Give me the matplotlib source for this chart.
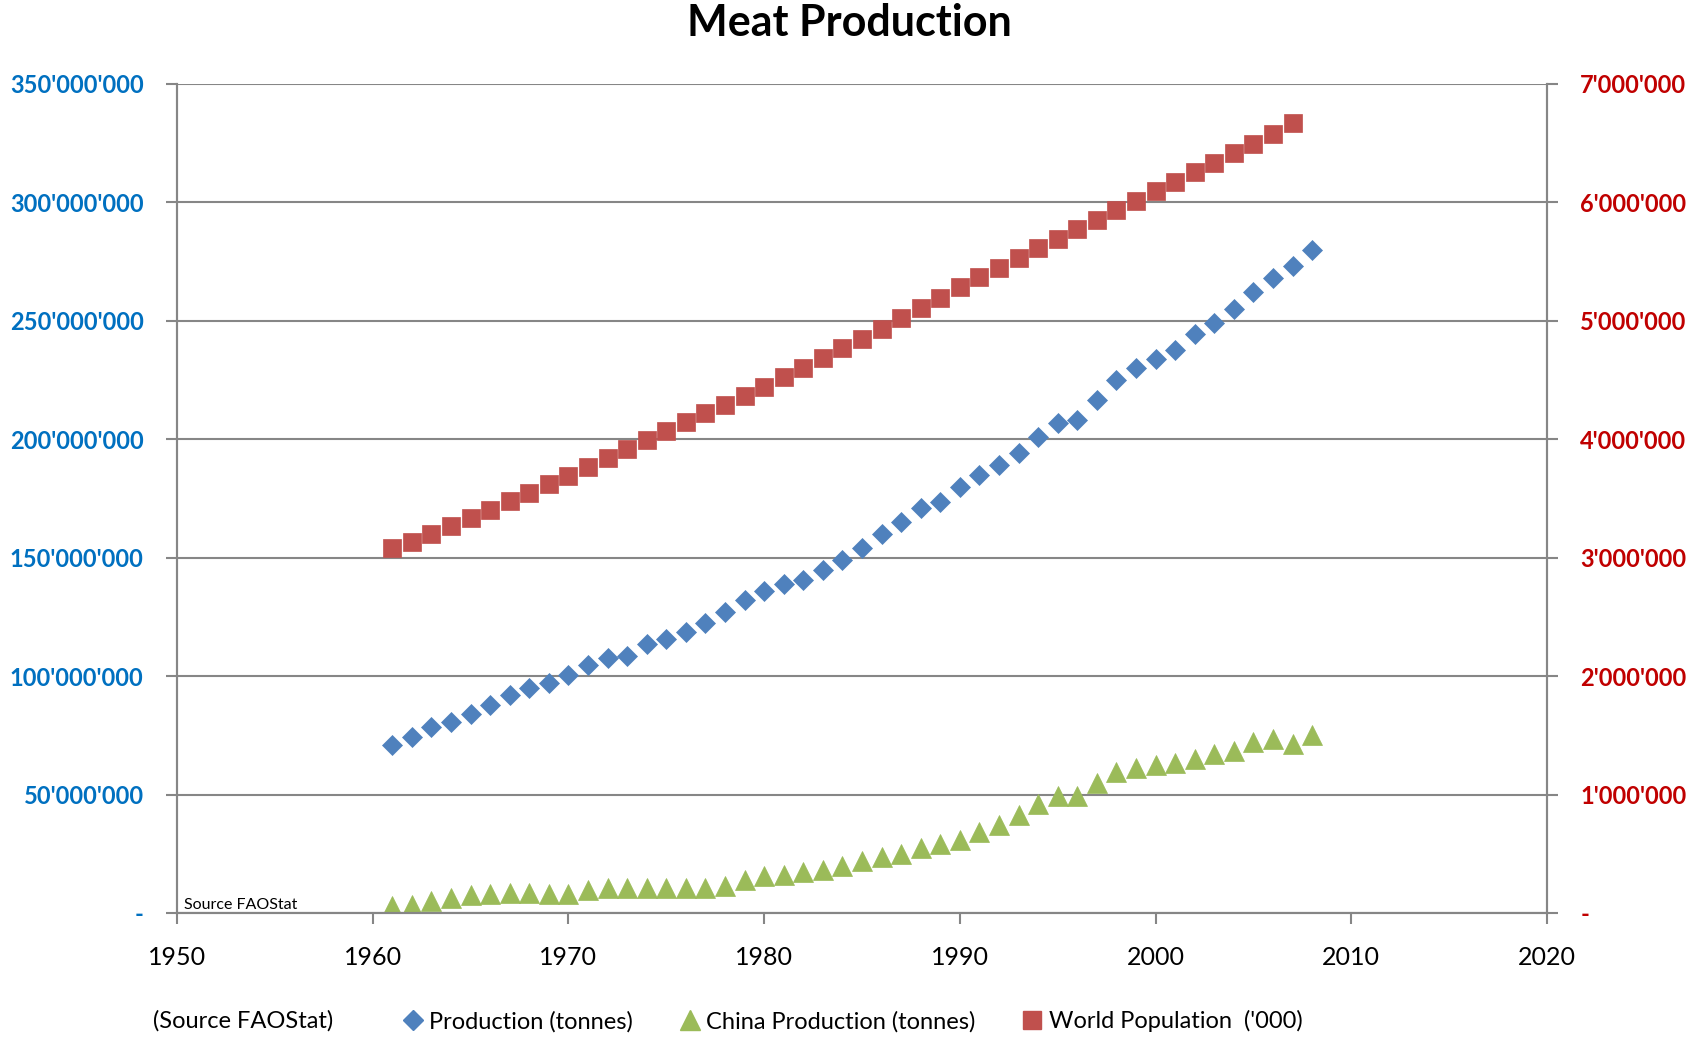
import matplotlib
matplotlib.use("Agg")
import matplotlib.pyplot as plt
from matplotlib.ticker import FuncFormatter, MultipleLocator
from matplotlib.lines import Line2D

plt.rcParams['font.family'] = ['Lato', 'Open Sans', 'DejaVu Sans']

years = list(range(1961, 2009))
production = [71.0, 74.5, 78.5, 80.5, 84.0, 88.0, 92.0, 95.0, 97.0, 100.5,
              104.5, 107.5, 108.5, 113.5, 115.5, 118.5, 122.5, 127.0, 132.0, 136.0,
              139.0, 140.5, 145.0, 149.0, 154.0, 160.0, 165.0, 171.0, 173.5, 180.0,
              185.0, 189.0, 194.0, 201.0, 207.0, 208.0, 216.5, 225.0, 230.0, 234.0,
              237.5, 244.5, 249.0, 255.0, 262.0, 268.0, 273.0, 280.0]  # million tonnes
china = [3.0, 3.5, 5.0, 6.5, 7.5, 8.0, 8.5, 8.5, 8.0, 8.0,
         9.5, 10.5, 10.5, 10.5, 10.5, 10.5, 10.5, 11.5, 14.0, 15.5,
         16.0, 17.5, 18.0, 20.0, 22.0, 23.5, 25.0, 27.5, 29.0, 31.0,
         34.0, 37.0, 41.5, 46.0, 49.5, 49.5, 55.0, 59.5, 61.0, 62.5,
         63.5, 65.0, 67.0, 68.5, 72.0, 73.5, 71.5, 75.0]  # million tonnes
pop_years = list(range(1961, 2008))
population = [3080, 3136, 3202, 3268, 3336, 3405, 3475, 3546, 3619, 3693,
              3769, 3845, 3921, 3996, 4071, 4145, 4218, 4292, 4367, 4444,
              4522, 4603, 4685, 4767, 4850, 4935, 5021, 5109, 5196, 5283,
              5366, 5449, 5531, 5612, 5693, 5774, 5855, 5935, 6015, 6095,
              6175, 6255, 6335, 6415, 6495, 6575, 6670]  # '000 thousands

blue, green, red = '#4F81BD', '#9BBB59', '#C0504D'

fig = plt.figure(figsize=(16.99, 10.39), dpi=100)
ax = fig.add_axes([0.1042, 0.1213, 0.8063, 0.7979])
ax2 = ax.twinx()

grid_c = '#868686'
ax.set_xlim(1950, 2020)
ax.set_ylim(0, 350e6)
ax2.set_ylim(0, 7e6)
ax.yaxis.set_major_locator(MultipleLocator(50e6))
ax2.yaxis.set_major_locator(MultipleLocator(1e6))
ax.xaxis.set_major_locator(MultipleLocator(10))
ax.grid(axis='y', color=grid_c, linewidth=1.5)
ax.set_axisbelow(True)

def fmt(v, pos):
    if v == 0:
        return '-'
    return f"{int(round(v)):,}".replace(',', "'")

ax.yaxis.set_major_formatter(FuncFormatter(fmt))
ax2.yaxis.set_major_formatter(FuncFormatter(fmt))

for a in (ax, ax2):
    for s in a.spines.values():
        s.set_color(grid_c)
        s.set_linewidth(1.5)
    a.spines['top'].set_visible(False)

ax.tick_params(axis='y', colors=grid_c, labelcolor='#0070C0', length=8, width=1.5, labelsize=17, pad=16)
ax2.tick_params(axis='y', colors=grid_c, labelcolor='#C00000', length=8, width=1.5, labelsize=17, pad=16)
ax.tick_params(axis='x', colors=grid_c, labelcolor='black', length=8, width=1.5, labelsize=18, pad=16)
for lab in ax.get_yticklabels() + ax2.get_yticklabels():
    lab.set_fontweight('bold')

ax2.plot(pop_years, [p * 1000 for p in population], linestyle='none', marker='s',
         markersize=13.5, markeredgewidth=0.5, color=red, label="World Population  ('000)")
ax.plot(years, [p * 1e6 for p in production], linestyle='none', marker='D',
        markersize=10, markeredgewidth=0.5, color=blue, label='Production (tonnes)')
ax.plot(years, [c * 1e6 for c in china], linestyle='none', marker='^',
        markersize=14, markeredgewidth=0.5, color=green, label='China Production (tonnes)')

ax.text(1950.35, 0.6e6, 'Source FAOStat', fontsize=11.5, ha='left', va='bottom', color='black')

fig.suptitle('Meat Production', fontsize=31, fontweight='bold', y=0.997, x=0.5)

fig.text(0.0899, 0.0177, '(Source FAOStat)', fontsize=17, ha='left', va='center', color='black')

handles = [Line2D([], [], linestyle='none', marker='D', markersize=10, color=blue),
           Line2D([], [], linestyle='none', marker='^', markersize=14, color=green),
           Line2D([], [], linestyle='none', marker='s', markersize=13, color=red)]
labels = ['Production (tonnes)', 'China Production (tonnes)', "World Population  ('000)"]
fig.legend(handles, labels, loc='center', bbox_to_anchor=(0.502, 0.017), ncol=3, frameon=False,
           fontsize=17, handlelength=0.8, handletextpad=0.3, columnspacing=2.0)

fig.savefig('out.png', dpi=100)
